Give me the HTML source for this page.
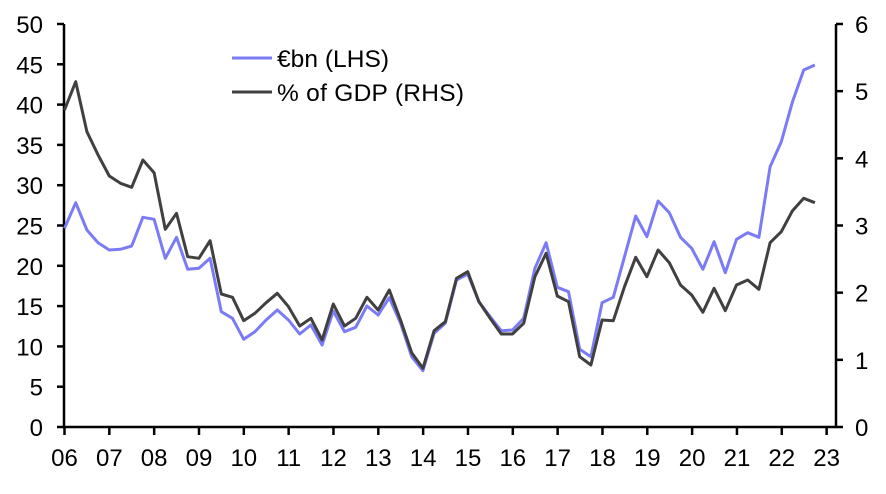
<!DOCTYPE html>
<html><head><meta charset="utf-8"><style>
html,body{margin:0;padding:0;background:#fff;}
svg text{font-family:"Liberation Sans",Arial,sans-serif;font-size:24px;fill:#000;}
svg text.lg{font-size:24.5px;}
</style></head><body>
<svg id="s" width="886" height="489" viewBox="0 0 886 489" xmlns="http://www.w3.org/2000/svg">
<g id="ax" stroke="#000" stroke-width="2.5" fill="none">
<line x1="64" y1="24" x2="64" y2="428"/>
<line x1="62.8" y1="427" x2="837" y2="427"/>
<line x1="836" y1="24" x2="836" y2="428"/>
</g>
<g id="lab"></g>
<polyline id="pb" fill="none" stroke="#7b7bf5" stroke-width="3" stroke-linejoin="round"/>
<polyline id="pk" fill="none" stroke="#404040" stroke-width="3" stroke-linejoin="round"/>
<line x1="232" y1="58" x2="272" y2="58" stroke="#7b7bf5" stroke-width="3"/>
<line x1="232" y1="92" x2="272" y2="92" stroke="#404040" stroke-width="3"/>
<text class="lg" x="277" y="67" textLength="112">€bn (LHS)</text>
<text class="lg" x="277" y="101" textLength="187">% of GDP (RHS)</text>
</svg>
<script>
var B=[228.3,202.7,230,242.7,250,249.3,246,217.3,219.3,258.3,237.3,269.3,268.3,258.3,311.7,318.3,339.3,331.7,320,310,320,334,325,345,311,331.7,327.3,306,315,297.7,323,356.7,370.7,333.3,323.3,280,274,301.7,316.7,330.7,330,318.3,268.3,242.7,287.3,291.7,349.3,356.7,302.7,297.3,256.7,216,236.7,201,212.7,237.3,248.3,269.3,241.7,272.7,239.3,232.7,237.3,166.7,141.7,101.7,70,65];
var K=[110,81.7,131.7,155,176,183.3,187.3,160,172.7,229.3,213.3,256.7,258.3,240.7,294,297.3,320.7,313.3,302.7,293.3,306.7,326,318.3,340,304,326,318.3,297.3,310,290,320,352.7,368.3,330.7,321.7,278.3,271.7,301.7,318.3,334,334,323.3,276.7,253.3,296,301.7,356.7,365,320,320.7,286.7,257.3,276.7,250,262.7,285,295,312.3,288.3,310.7,285,280,289.3,242.7,231.7,210.7,198.3,202.7];
function pts(a){return a.map(function(y,i){return (64.5+11.2*i).toFixed(1)+","+y}).join(" ");}
document.getElementById("pb").setAttribute("points",pts(B));
document.getElementById("pk").setAttribute("points",pts(K));
var g=document.getElementById("ax"),L=document.getElementById("lab"),h="",t="";
for(var i=0;i<=10;i++){var y=427-i*40.3;h+='<line x1="57" y1="'+y+'" x2="64" y2="'+y+'"/>';t+='<text x="43" y="'+(y+9)+'" text-anchor="end">'+(i*5)+'</text>';}
for(var i=0;i<=6;i++){var y=427-i*67.17;h+='<line x1="836" y1="'+y+'" x2="843" y2="'+y+'"/>';t+='<text x="855" y="'+(y+9)+'">'+i+'</text>';}
for(var i=0;i<=17;i++){var x=64.5+44.83*i;h+='<line x1="'+x+'" y1="427" x2="'+x+'" y2="435"/>';var yr=6+i;t+='<text x="'+x+'" y="466" text-anchor="middle">'+(yr<10?"0"+yr:yr)+'</text>';}
g.innerHTML+=h;L.innerHTML=t;
</script>
</body></html>
